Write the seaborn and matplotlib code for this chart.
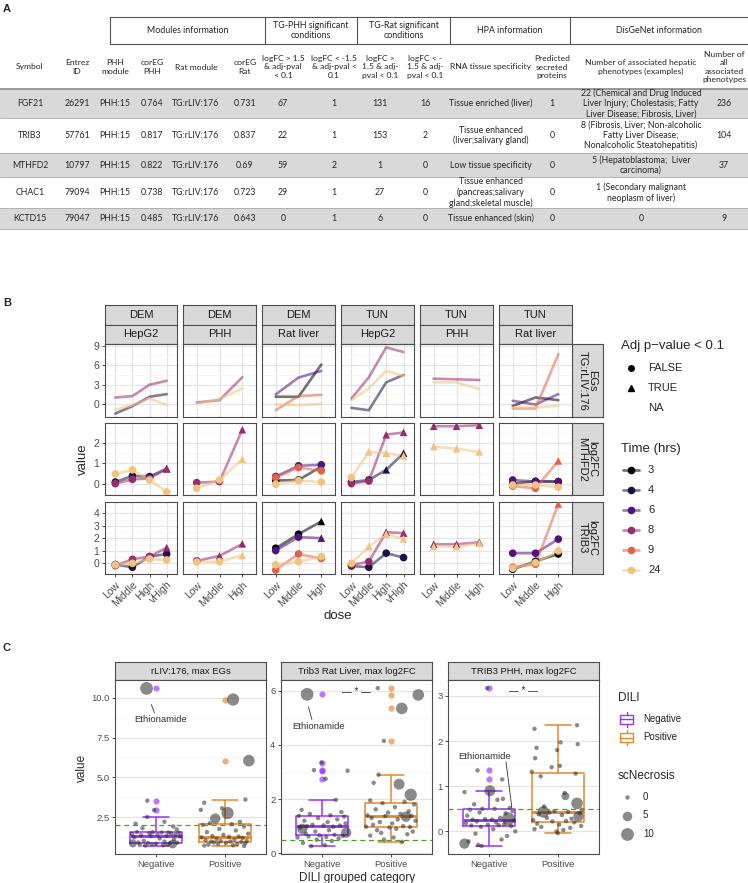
import numpy as np
import pandas as pd
import matplotlib
matplotlib.use('Agg')
import matplotlib.pyplot as plt
from matplotlib.patches import Rectangle
import seaborn as sns

W, H = 748, 883

# ---------------- A: table ----------------
TABLE_GROUPS = ['Modules information', 'TG-PHH significant\nconditions', 'TG-Rat significant\nconditions',
                'HPA information', 'DisGeNet information']
TABLE_HEADERS = ['Symbol', 'Entrez\nID', 'PHH\nmodule', 'corEG\nPHH', 'Rat module', 'corEG\nRat',
                 'logFC > 1.5\n& adj-pval\n< 0.1', 'logFC < -1.5\n& adj-pval <\n0.1',
                 'logFC >\n1.5 & adj-\npval < 0.1', 'logFC < -\n1.5 & adj-\npval < 0.1',
                 'RNA tissue specificity', 'Predicted\nsecreted\nproteins',
                 'Number of associated hepatic\nphenotypes (examples)', 'Number of\nall\nassociated\nphenotypes']
ROW_FGF21 = ['FGF21', '26291', 'PHH:15', '0.764', 'TG:rLIV:176', '0.731', '67', '1', '131', '16',
             'Tissue enriched (liver)', '1',
             '22 (Chemical and Drug Induced\nLiver Injury; Cholestasis; Fatty\nLiver Disease; Fibrosis, Liver)', '236']
ROW_TRIB3 = ['TRIB3', '57761', 'PHH:15', '0.817', 'TG:rLIV:176', '0.837', '22', '1', '153', '2',
             'Tissue enhanced\n(liver;salivary gland)', '0',
             '8 (Fibrosis, Liver; Non-alcoholic\nFatty Liver Disease;\nNonalcoholic Steatohepatitis)', '104']
ROW_MTHFD2 = ['MTHFD2', '10797', 'PHH:15', '0.822', 'TG:rLIV:176', '0.69', '59', '2', '1', '0',
              'Low tissue specificity', '0', '5 (Hepatoblastoma;  Liver\ncarcinoma)', '37']
ROW_CHAC1 = ['CHAC1', '79094', 'PHH:15', '0.738', 'TG:rLIV:176', '0.723', '29', '1', '27', '0',
             'Tissue enhanced\n(pancreas;salivary\ngland;skeletal muscle)', '0',
             '1 (Secondary malignant\nneoplasm of liver)', '']
ROW_KCTD15 = ['KCTD15', '79047', 'PHH:15', '0.485', 'TG:rLIV:176', '0.643', '0', '1', '6', '0',
              'Tissue enhanced (skin)', '0', '0', '9']

# ---------------- B: time/dose lines ----------------
TIMES = [3, 4, 6, 8, 9, 24]
TIME_COLORS = ['#000000', '#1d1147', '#51127c', '#982c6c', '#e0634c', '#f0c47f']
DOSES4 = ['Low', 'Middle', 'High', 'vHigh']
DOSES3 = ['Low', 'Middle', 'High']
B_COMPOUNDS = ['DEM', 'DEM', 'DEM', 'TUN', 'TUN', 'TUN']
B_SYSTEMS = ['HepG2', 'PHH', 'Rat liver', 'HepG2', 'PHH', 'Rat liver']
B_FEATURES = ['EGs\nTG:rLIV:176', 'log2FC\nMTHFD2', 'log2FC\nTRIB3']

EG_DEM_HEPG2 = {4: [-1.45, -0.3, 1.14, 1.55], 8: [1.03, 1.24, 3.0, 3.6], 24: [-0.83, -0.15, 0.9, -0.15]}
EG_DEM_PHH = {8: [0.26, 0.62, 4.14], 24: [0.1, 0.78, 2.43]}
EG_DEM_RAT = {3: [1.14, 1.14, 6.1], 6: [1.5, 4.09, 5.12], 9: [-0.93, 1.24, 1.45], 24: [-0.05, -0.15, 0.05]}
EG_TUN_HEPG2 = {4: [-0.57, -0.93, 3.36, 4.5], 8: [0.88, 4.14, 8.74, 8.02], 24: [0.62, 2.43, 5.12, 4.35]}
EG_TUN_PHH = {8: [3.93, 3.83, 3.72], 24: [3.36, 3.36, 2.33]}
EG_TUN_RAT = {3: [-0.26, 1.03, 0.62], 6: [0.52, -0.05, 1.55], 9: [-0.67, -0.67, 7.7], 24: [-0.52, -0.52, -0.26]}

MTHFD2_DEM_HEPG2 = {4: [0.08, 0.38, 0.35, 0.74], 8: [0.0, 0.21, 0.26, 0.73], 24: [0.48, 0.68, 0.18, -0.41]}
MTHFD2_DEM_PHH = {8: [0.05, 0.1, 2.66], 24: [-0.23, 0.18, 1.2]}
MTHFD2_DEM_RAT = {3: [0.15, 0.18, 0.84], 6: [0.35, 0.88, 0.93], 9: [0.3, 0.79, 0.63], 24: [-0.03, 0.15, 0.08]}
MTHFD2_TUN_HEPG2 = {4: [0.08, 0.18, 0.68, 1.5], 8: [0.0, 0.13, 2.41, 2.53], 24: [0.3, 1.57, 1.5, 1.37]}
MTHFD2_TUN_PHH = {8: [2.83, 2.83, 2.88], 24: [1.83, 1.72, 1.57]}
MTHFD2_TUN_RAT = {3: [0.0, 0.12, 0.1], 6: [0.18, 0.1, 0.1], 9: [-0.12, -0.23, 1.12], 24: [-0.07, -0.07, -0.18]}

MTHFD2_DEM_HEPG2_SIG = {4: [0, 0, 0, 1], 8: [0, 0, 0, 1], 24: [0, 0, 0, 0]}
MTHFD2_DEM_PHH_SIG = {8: [0, 0, 1], 24: [0, 0, 1]}
MTHFD2_DEM_RAT_SIG = {3: [0, 0, 1], 6: [0, 0, 0], 9: [0, 0, 0], 24: [0, 0, 0]}
MTHFD2_TUN_HEPG2_SIG = {4: [0, 0, 1, 1], 8: [0, 0, 1, 1], 24: [0, 1, 1, 1]}
MTHFD2_TUN_PHH_SIG = {8: [1, 1, 1], 24: [1, 1, 1]}
MTHFD2_TUN_RAT_SIG = {3: [0, 0, 0], 6: [0, 0, 0], 9: [0, 0, 1], 24: [0, 0, 0]}

TRIB3_DEM_HEPG2 = {4: [-0.1, -0.32, 0.54, 0.75], 8: [-0.19, 0.32, 0.54, 1.26], 24: [-0.13, 0.0, 0.35, 0.27]}
TRIB3_DEM_PHH = {8: [0.19, 0.59, 1.56], 24: [0.1, 0.13, 0.64]}
TRIB3_DEM_RAT = {3: [1.21, 2.34, 3.36], 6: [1.02, 2.1, 2.02], 9: [-0.54, 0.75, 0.38], 24: [-0.13, 0.13, 0.54]}
TRIB3_TUN_HEPG2 = {4: [-0.22, -0.32, 0.81, 0.46], 8: [-0.13, 0.13, 2.5, 2.42], 24: [0.0, 1.34, 2.34, 1.96]}
TRIB3_TUN_PHH = {8: [1.53, 1.53, 1.69], 24: [1.34, 1.34, 1.61]}
TRIB3_TUN_RAT = {3: [-0.48, 0.16, 0.75], 6: [0.81, 0.81, 1.94], 9: [-0.32, -0.08, 4.76], 24: [-0.4, 0.05, 0.99]}

TRIB3_DEM_HEPG2_SIG = {4: [0, 0, 0, 0], 8: [0, 0, 0, 1], 24: [0, 0, 0, 0]}
TRIB3_DEM_PHH_SIG = {8: [0, 1, 1], 24: [0, 0, 1]}
TRIB3_DEM_RAT_SIG = {3: [0, 0, 1], 6: [0, 0, 1], 9: [0, 0, 0], 24: [0, 0, 0]}
TRIB3_TUN_HEPG2_SIG = {4: [0, 0, 0, 0], 8: [0, 0, 1, 1], 24: [0, 1, 1, 1]}
TRIB3_TUN_PHH_SIG = {8: [1, 1, 1], 24: [1, 1, 1]}
TRIB3_TUN_RAT_SIG = {3: [0, 0, 0], 6: [0, 0, 0], 9: [0, 0, 1], 24: [0, 0, 0]}

# ---------------- C: DILI boxplots ----------------
C_TITLES = ['rLIV:176, max EGs', 'Trib3 Rat Liver, max log2FC', 'TRIB3 PHH, max log2FC']
C_THRESH = [2.0, 0.5, 0.5]
DILI_COLORS = {'Negative': '#9b30ff', 'Positive': '#e3872d'}

C1_NEG_VAL = [10.6, 3.53, 2.94, 2.5, 2.2, 2.08, 1.9, 1.8, 1.72, 1.54, 1.53, 1.55, 1.52, 1.5, 1.48, 1.45,
              1.42, 1.4, 1.38, 1.35, 1.32, 1.3, 1.28, 1.22, 1.15, 1.08, 1.0, 0.95, 0.9, 0.88, 0.86, 0.85,
              0.84, 0.82, 0.8, 0.78, 0.76, 0.74, 0.72, 0.7]
C1_NEG_JIT = [-0.14, -0.13, -0.03, -0.13, 0.12, -0.30, 0.25, -0.20, 0.30, -0.05, 0.18, -0.28, 0.08, 0.33,
              -0.10, 0.22, -0.35, 0.02, 0.28, -0.22, 0.15, -0.08, 0.35, -0.32, 0.05, 0.26, -0.18, 0.12,
              -0.26, 0.31, -0.12, 0.20, -0.34, 0.00, 0.24, -0.06, 0.16, -0.24, 0.10, -0.16]
C1_NEG_SIZE = [12, 0, 0, 0, 0, 0, 0, 0, 0, 0, 0, 0, 0, 0, 0, 0, 0, 0, 0, 0,
               0, 0, 0, 0, 0, 0, 0, 0, 0, 0, 0, 0, 3, 0, 4, 0, 0, 0, 0, 0]
C1_POS_VAL = [9.9, 6.05, 3.6, 3.4, 3.05, 2.95, 2.75, 2.4, 2.2, 2.1, 2.05, 2.0, 1.9, 1.75, 1.65, 1.55,
              1.45, 1.38, 1.3, 1.27, 1.25, 1.22, 1.18, 1.12, 1.08, 1.04, 1.0, 0.98, 0.96, 0.95, 0.93,
              0.9, 0.88, 0.85, 0.82, 0.8, 0.76, 0.72, 0.7, 0.68]
C1_POS_JIT = [0.12, 0.35, 0.30, -0.30, -0.04, -0.35, 0.04, -0.14, 0.22, -0.22, 0.10, -0.32, 0.28, -0.08,
              0.16, -0.26, 0.34, -0.02, -0.18, 0.20, 0.06, -0.34, 0.26, -0.12, 0.14, -0.28, 0.32, -0.06,
              0.08, -0.20, 0.24, -0.16, 0.02, 0.30, -0.10, 0.18, -0.24, 0.12, -0.30, 0.28]
C1_POS_SIZE = [9, 8, 0, 0, 0, 0, 9, 6, 0, 0, 0, 0, 0, 0, 0, 0, 0, 0, 0, 0,
               0, 0, 0, 0, 0, 0, 0, 0, 0, 0, 0, 0, 0, 0, 0, 0, 0, 0, 0, 0]

C2_NEG_VAL = [5.87, 3.35, 3.07, 3.05, 2.75, 1.97, 1.6, 1.52, 1.45, 1.4, 1.38, 1.35, 1.3, 1.25, 1.2, 1.15,
              1.1, 1.05, 1.03, 1.02, 1.0, 0.98, 0.95, 0.9, 0.85, 0.8, 0.76, 0.72, 0.68, 0.66, 0.64, 0.62,
              0.6, 0.58, 0.55, 0.5, 0.45, 0.38, 0.3, 0.26]
C2_NEG_JIT = [-0.22, -0.01, -0.12, 0.37, 0.05, 0.20, -0.30, 0.28, -0.18, 0.12, -0.34, 0.32, -0.06, 0.22,
              -0.26, 0.08, 0.34, -0.14, 0.02, 0.26, -0.22, 0.16, -0.32, -0.29, 0.10, -0.10, 0.35, -0.24,
              0.18, -0.04, 0.30, -0.20, 0.06, -0.36, 0.24, -0.08, 0.14, -0.28, 0.04, -0.16]
C2_NEG_SIZE = [12, 0, 0, 0, 0, 0, 0, 0, 0, 0, 0, 0, 0, 0, 0, 0, 0, 0, 0, 0,
               0, 0, 0, 6, 0, 0, 6, 0, 0, 0, 0, 0, 0, 0, 0, 0, 0, 0, 0, 0]
C2_POS_VAL = [6.1, 5.85, 5.35, 4.15, 2.9, 2.6, 2.55, 2.16, 1.95, 1.9, 1.85, 1.8, 1.7, 1.62, 1.55, 1.5,
              1.45, 1.4, 1.38, 1.37, 1.35, 1.3, 1.25, 1.2, 1.15, 1.1, 1.05, 1.0, 0.98, 0.97, 0.95, 0.9,
              0.85, 0.8, 0.75, 0.7, 0.65, 0.58, 0.5, 0.42]
C2_POS_JIT = [-0.19, 0.40, 0.16, -0.10, -0.18, -0.25, 0.12, 0.29, -0.30, 0.20, -0.12, 0.34, 0.06, -0.22,
              0.26, -0.04, 0.14, -0.34, 0.30, -0.08, 0.22, -0.28, 0.10, 0.36, -0.16, 0.02, -0.26, 0.18,
              -0.36, 0.28, -0.02, 0.08, -0.20, 0.32, -0.14, 0.24, -0.30, 0.04, -0.10, 0.16]
C2_POS_SIZE = [0, 8, 8, 0, 0, 0, 7, 9, 0, 0, 0, 0, 0, 0, 0, 0, 0, 0, 0, 0,
               6, 0, 0, 0, 0, 0, 0, 0, 0, 0, 0, 0, 0, 0, 0, 0, 0, 0, 0, 0]

C3_NEG_VAL = [3.17, 1.35, 1.15, 0.9, 0.87, 0.72, 0.7, 0.6, 0.52, 0.5, 0.5, 0.48, 0.45, 0.42, 0.4, 0.35,
              0.3, 0.28, 0.27, 0.26, 0.26, 0.24, 0.22, 0.2, 0.18, 0.16, 0.15, 0.14, 0.13, 0.12, 0.1, 0.05,
              0.0, -0.05, -0.1, -0.18, -0.22, -0.27, -0.3, -0.32]
C3_NEG_JIT = [-0.03, -0.17, 0.19, 0.01, -0.36, 0.20, 0.12, -0.22, 0.30, -0.10, 0.08, -0.28, 0.34, -0.14,
              0.24, -0.32, 0.16, 0.28, -0.06, 0.04, -0.24, 0.36, -0.18, 0.10, -0.34, 0.22, -0.02, 0.14,
              -0.26, 0.32, -0.12, 0.06, 0.38, -0.20, 0.26, 0.18, -0.30, -0.36, -0.16, -0.11]
C3_NEG_SIZE = [0, 0, 0, 7, 0, 0, 0, 0, 0, 0, 0, 0, 0, 0, 0, 0, 0, 12, 0, 0,
               0, 0, 0, 0, 0, 0, 0, 0, 0, 0, 0, 0, 0, 0, 0, 0, 0, 6, 0, 0]
C3_POS_VAL = [2.35, 2.27, 1.97, 1.93, 1.85, 1.8, 1.62, 1.45, 1.42, 1.32, 1.28, 1.22, 0.85, 0.78, 0.62, 0.55,
              0.48, 0.45, 0.43, 0.43, 0.42, 0.4, 0.38, 0.36, 0.33, 0.3, 0.28, 0.25, 0.23, 0.22, 0.2, 0.17,
              0.15, 0.12, 0.1, 0.08, 0.05, 0.03, 0.0, -0.04]
C3_POS_JIT = [0.28, -0.34, 0.04, 0.29, -0.31, -0.01, -0.33, 0.03, -0.09, -0.38, 0.26, -0.25, 0.10, 0.11,
              0.28, -0.20, 0.35, -0.05, -0.21, 0.15, -0.12, 0.32, -0.28, 0.06, 0.30, -0.16, 0.20, -0.36,
              0.12, -0.08, 0.24, -0.30, 0.02, 0.34, -0.24, 0.18, -0.34, 0.08, -0.02, 0.0]
C3_POS_SIZE = [0, 0, 0, 0, 0, 0, 0, 0, 0, 0, 0, 0, 0, 3, 8, 0, 0, 0, 8, 0,
               0, 0, 0, 0, 6, 0, 0, 0, 0, 0, 0, 0, 0, 0, 0, 0, 0, 0, 0, 0]

sns.set_theme(style='ticks')
plt.rcParams['font.family'] = ['Liberation Sans', 'DejaVu Sans']
TFONT = ['Lato', 'Liberation Sans', 'DejaVu Sans']

fig = plt.figure(figsize=(W / 100, H / 100), dpi=100)
fig.patch.set_facecolor('white')

# overlay in pixel coordinates for table and legends
ax0 = fig.add_axes([0, 0, 1, 1])
ax0.set_xlim(0, W)
ax0.set_ylim(H, 0)
ax0.axis('off')


def pax(x0, y0, x1, y1):
    return fig.add_axes([x0 / W, 1 - y1 / H, (x1 - x0) / W, (y1 - y0) / H])


def strip(x0, y0, x1, y1, text, rot=0, fs=8):
    a = pax(x0, y0, x1, y1)
    a.set_facecolor('#d9d9d9')
    a.set_xticks([])
    a.set_yticks([])
    for s in a.spines.values():
        s.set_color('#4d4d4d')
        s.set_linewidth(0.8)
    a.text(0.5, 0.5, text, ha='center', va='center', rotation=rot, fontsize=fs,
           color='#1a1a1a', transform=a.transAxes, linespacing=1.0)
    return a


def style_panel(a):
    a.set_facecolor('white')
    for s in a.spines.values():
        s.set_color('#4d4d4d')
        s.set_linewidth(0.8)
    a.grid(which='major', color='#e5e5e5', lw=0.9)
    a.grid(which='minor', axis='y', color='#f3f3f3', lw=0.5)
    a.set_axisbelow(True)
    a.tick_params(which='major', length=2.5, width=0.6, color='#333333', labelcolor='#4d4d4d', pad=1.5)
    a.tick_params(which='minor', length=0)


# ---------------- A: table drawing ----------------
ax0.text(3, 9, 'A', fontsize=8, fontweight='bold', va='center')
col_x = [30, 77, 115, 152, 196, 245, 283, 334, 380, 425, 491, 552, 641, 724]
group_bounds = [110, 265, 357, 450, 570, 748]
ax0.plot([group_bounds[0], W], [17, 17], color='#555555', lw=0.8)
ax0.plot([group_bounds[0], W], [44, 44], color='#555555', lw=0.8)
for gx in group_bounds[:-1]:
    ax0.plot([gx, gx], [17, 44], color='#555555', lw=0.8)
for g, (a, b) in zip(TABLE_GROUPS, zip(group_bounds[:-1], group_bounds[1:])):
    ax0.text((a + b) / 2, 30.5, g, ha='center', va='center', fontsize=6.4, family=TFONT, linespacing=1.2)
for x, h in zip(col_x, TABLE_HEADERS):
    ax0.text(x, 67, h, ha='center', va='center', fontsize=6.1, family=TFONT, linespacing=1.22)
ax0.plot([0, W], [89, 89], color='#888888', lw=1.2)

row_edges = [89, 118, 153, 177, 208, 229]
rows = [ROW_FGF21, ROW_TRIB3, ROW_MTHFD2, ROW_CHAC1, ROW_KCTD15]
for i, row in enumerate(rows):
    y0, y1 = row_edges[i], row_edges[i + 1]
    if i % 2 == 0:
        ax0.add_patch(Rectangle((0, y0), W, y1 - y0, color='#d9d9d9', lw=0, zorder=0))
    ax0.plot([0, W], [y1, y1], color='#aaaaaa', lw=0.6)
    for x, v in zip(col_x, row):
        ax0.text(x, (y0 + y1) / 2, v, ha='center', va='center', fontsize=6.3, family=TFONT, linespacing=1.15)

# ---------------- B: facet grid ----------------
ax0.text(3, 303, 'B', fontsize=8, fontweight='bold', va='center')
B_COLS = [(105, 177), (183, 256), (262, 335), (341, 414), (420, 493), (499, 572)]
B_ROWS = [(344, 417), (423, 495), (502, 574)]
B_YLIM = [(-1.97, 9.26), (-0.56, 2.99), (-0.86, 4.92)]
B_YTICKS = [[0, 3, 6, 9], [0, 1, 2], [0, 1, 2, 3, 4]]
B_YMINOR = [[-1.5, 1.5, 4.5, 7.5], [-0.5, 0.5, 1.5, 2.5], [-0.5, 0.5, 1.5, 2.5, 3.5, 4.5]]
B_DATA = [[EG_DEM_HEPG2, EG_DEM_PHH, EG_DEM_RAT, EG_TUN_HEPG2, EG_TUN_PHH, EG_TUN_RAT],
          [MTHFD2_DEM_HEPG2, MTHFD2_DEM_PHH, MTHFD2_DEM_RAT, MTHFD2_TUN_HEPG2, MTHFD2_TUN_PHH, MTHFD2_TUN_RAT],
          [TRIB3_DEM_HEPG2, TRIB3_DEM_PHH, TRIB3_DEM_RAT, TRIB3_TUN_HEPG2, TRIB3_TUN_PHH, TRIB3_TUN_RAT]]
B_SIG = [[None] * 6,
         [MTHFD2_DEM_HEPG2_SIG, MTHFD2_DEM_PHH_SIG, MTHFD2_DEM_RAT_SIG, MTHFD2_TUN_HEPG2_SIG,
          MTHFD2_TUN_PHH_SIG, MTHFD2_TUN_RAT_SIG],
         [TRIB3_DEM_HEPG2_SIG, TRIB3_DEM_PHH_SIG, TRIB3_DEM_RAT_SIG, TRIB3_TUN_HEPG2_SIG,
          TRIB3_TUN_PHH_SIG, TRIB3_TUN_RAT_SIG]]
pal = dict(zip(TIMES, TIME_COLORS))

for c, (x0, x1) in enumerate(B_COLS):
    strip(x0, 305, x1, 324.5, B_COMPOUNDS[c], fs=8)
    strip(x0, 324.5, x1, 344, B_SYSTEMS[c], fs=8)
for r, (y0, y1) in enumerate(B_ROWS):
    strip(572, y0, 603, y1, B_FEATURES[r], rot=270, fs=8)

for r, (y0, y1) in enumerate(B_ROWS):
    for c, (x0, x1) in enumerate(B_COLS):
        ax = pax(x0, y0, x1, y1)
        style_panel(ax)
        doses = DOSES4 if B_SYSTEMS[c] == 'HepG2' else DOSES3
        recs = []
        for t, vals in B_DATA[r][c].items():
            sig = B_SIG[r][c][t] if B_SIG[r][c] is not None else [0] * len(vals)
            for i, v in enumerate(vals):
                recs.append({'dose': i, 'value': v, 'time': t, 'sig': bool(sig[i])})
        df = pd.DataFrame(recs).sort_values(['time', 'dose'])
        sns.lineplot(data=df, x='dose', y='value', hue='time', palette=pal, hue_order=TIMES,
                     estimator=None, sort=False, alpha=0.55, lw=1.9, legend=False, ax=ax)
        if B_SIG[r][c] is not None:
            sns.scatterplot(data=df, x='dose', y='value', hue='time', palette=pal, hue_order=TIMES,
                            style='sig', markers={False: 'o', True: '^'}, style_order=[False, True],
                            s=30, linewidth=0, legend=False, ax=ax, zorder=5)
        ax.set_xlim(-0.6, len(doses) - 0.4)
        ax.set_ylim(*B_YLIM[r])
        ax.set_xticks(range(len(doses)))
        ax.set_yticks(B_YTICKS[r])
        ax.set_yticks(B_YMINOR[r], minor=True)
        ax.set_xlabel('')
        ax.set_ylabel('')
        if r == 2:
            ax.set_xticklabels(doses, rotation=45, ha='right', va='top', rotation_mode='anchor', fontsize=7.5)
        else:
            ax.tick_params(axis='x', length=0, labelbottom=False)
        if c == 0:
            ax.set_yticklabels([str(v) for v in B_YTICKS[r]], fontsize=7.5)
        else:
            ax.tick_params(axis='y', length=0, labelleft=False)

ax0.text(83, 459, 'value', rotation=90, ha='center', va='center', fontsize=9.5)
ax0.text(338, 616, 'dose', ha='center', va='center', fontsize=9.5)

# legend B
ax0.text(621, 346, 'Adj p\u2212value < 0.1', fontsize=9.5, va='center')
ax0.plot(631, 368, 'o', color='black', ms=4)
ax0.plot(631, 388, '^', color='black', ms=5)
for yy, lab in zip([368, 388, 408], ['FALSE', 'TRUE', 'NA']):
    ax0.text(648, yy, lab, fontsize=8, va='center')
ax0.text(621, 449, 'Time (hrs)', fontsize=9.5, va='center')
for k, (t, col) in enumerate(zip(TIMES, TIME_COLORS)):
    yy = 470 + 20 * k
    ax0.plot([623, 639], [yy, yy], color=col, alpha=0.55, lw=2)
    ax0.plot(631, yy, 'o', color=col, ms=4.5)
    ax0.text(648, yy, str(t), fontsize=8, va='center')

# ---------------- C: boxplots ----------------
ax0.text(3, 648, 'C', fontsize=8, fontweight='bold', va='center')
C_COLS = [(115, 266), (281, 432), (448, 599)]
C_YLIM = [(0.17, 11.13), (-0.03, 6.4), (-0.49, 3.35)]
C_YTICKS = [[2.5, 5.0, 7.5, 10.0], [0, 2, 4, 6], [0, 1, 2, 3]]
C_YMINOR = [[1.25, 3.75, 6.25, 8.75], [1, 3, 5], [-0.5, 0.5, 1.5, 2.5]]
C_DATA = [(C1_NEG_VAL, C1_NEG_JIT, C1_NEG_SIZE, C1_POS_VAL, C1_POS_JIT, C1_POS_SIZE),
          (C2_NEG_VAL, C2_NEG_JIT, C2_NEG_SIZE, C2_POS_VAL, C2_POS_JIT, C2_POS_SIZE),
          (C3_NEG_VAL, C3_NEG_JIT, C3_NEG_SIZE, C3_POS_VAL, C3_POS_JIT, C3_POS_SIZE)]
ETH_LABEL = [(0.06, 8.63, -0.07, 9.58, -0.025, 9.05),
             (-0.06, 4.7, -0.2, 5.41, -0.15, 4.94),
             (-0.07, 1.65, 0.245, 1.54, 0.33, 0.53)]
SIG_Y = [None, 5.96, 3.11]
GROUPS = ['Negative', 'Positive']

for p, (x0, x1) in enumerate(C_COLS):
    strip(x0, 662, x1, 680, C_TITLES[p], fs=6.8)
    ax = pax(x0, 680, x1, 854)
    style_panel(ax)
    nv, nj, ns, pv, pj, ps = C_DATA[p]
    df = pd.DataFrame({'group': ['Negative'] * len(nv) + ['Positive'] * len(pv),
                       'value': nv + pv, 'jit': nj + pj, 'scNecrosis': ns + ps})
    df['xpos'] = df['group'].map({'Negative': 0, 'Positive': 1}) + df['jit']
    sns.boxplot(data=df, x='group', y='value', hue='group', order=GROUPS, hue_order=GROUPS,
                palette=DILI_COLORS, fill=False, width=0.75, linewidth=1.1, showfliers=False,
                medianprops={'linewidth': 2.0}, legend=False, ax=ax)
    # boxplot outliers drawn at the category centre in the box colour
    for gi, g in enumerate(GROUPS):
        v = df.loc[df['group'] == g, 'value'].to_numpy()
        q1, q3 = np.percentile(v, [25, 75])
        out = v[(v > q3 + 1.5 * (q3 - q1)) | (v < q1 - 1.5 * (q3 - q1))]
        ax.scatter(np.full(len(out), gi), out, s=20, color=DILI_COLORS[g], alpha=0.65, lw=0, zorder=4)
    sns.scatterplot(data=df, x='xpos', y='value', size='scNecrosis', sizes=(10, 85), size_norm=(0, 10),
                    color='#2b2b2b', alpha=0.55, linewidth=0, legend=False, ax=ax, zorder=5)
    ax.axhline(C_THRESH[p], color='#4f9a2a', ls=(0, (4, 3)), lw=0.9, zorder=6)
    tx, ty, lx0, ly0, lx1, ly1 = ETH_LABEL[p]
    ax.text(tx, ty, 'Ethionamide', ha='center', va='center', fontsize=6.8, color='#333333', zorder=7)
    ax.plot([lx0, lx1], [ly0, ly1], color='#333333', lw=0.6, zorder=7)
    if SIG_Y[p] is not None:
        ax.text(0.5, SIG_Y[p], '\u2014 * \u2014', ha='center', va='center', fontsize=7, zorder=7)
    ax.set_xlim(-0.6, 1.6)
    ax.set_ylim(*C_YLIM[p])
    ax.set_xticks([0, 1])
    ax.set_xticklabels(GROUPS, fontsize=6.8)
    ax.set_yticks(C_YTICKS[p])
    ax.set_yticks(C_YMINOR[p], minor=True)
    ax.set_yticklabels([f'{v:.1f}' if p == 0 else str(v) for v in C_YTICKS[p]], fontsize=6.8)
    ax.set_xlabel('')
    ax.set_ylabel('')

ax0.text(82, 768, 'value', rotation=90, ha='center', va='center', fontsize=8.5)
ax0.text(357, 878, 'DILI grouped category', ha='center', va='center', fontsize=8.5)

# legend C
ax0.text(618, 698, 'DILI', fontsize=8.5, va='center')
for k, g in enumerate(GROUPS):
    yy = 719 + 18.5 * k
    col = DILI_COLORS[g]
    ax0.add_patch(Rectangle((620.5, yy - 4.5), 13, 9, fill=False, edgecolor=col, lw=1))
    ax0.plot([620.5, 633.5], [yy, yy], color=col, lw=1)
    ax0.plot([627, 627], [yy - 7.5, yy - 4.5], color=col, lw=1)
    ax0.plot([627, 627], [yy + 4.5, yy + 7.5], color=col, lw=1)
    ax0.text(643, yy, g, fontsize=7, va='center')
ax0.text(618, 776, 'scNecrosis', fontsize=8.5, va='center')
for k, (sv, ss) in enumerate(zip([0, 5, 10], [10, 47.5, 85])):
    yy = 797 + 18.5 * k
    ax0.scatter(627, yy, s=ss, color='#2b2b2b', alpha=0.55, lw=0)
    ax0.text(643, yy, str(sv), fontsize=7, va='center')

fig.savefig('out.png', dpi=100)
